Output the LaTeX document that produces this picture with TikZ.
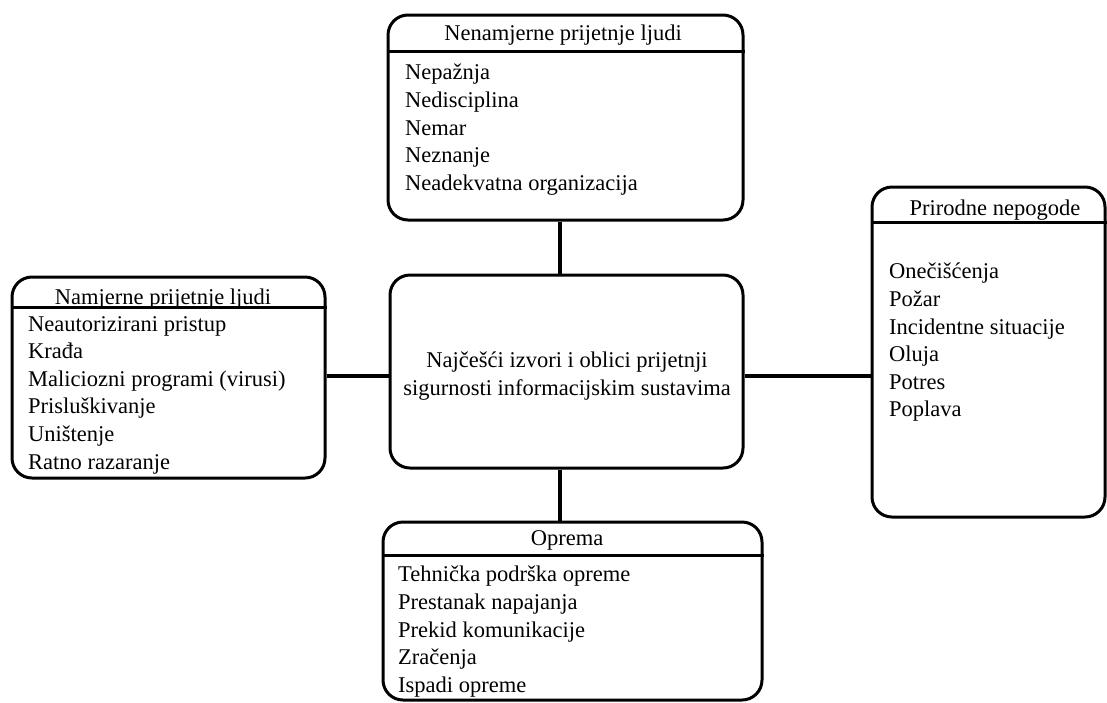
\documentclass[tikz,border=0pt]{standalone}
\usepackage{fontspec}
\setmainfont{Liberation Serif}
\begin{document}
\begin{tikzpicture}[x=1pt,y=-1pt,
  box/.style={draw=black, line width=3pt, rounded corners=20pt, inner sep=0pt, minimum width=#1},
  hdr/.style={line width=3pt},
  conn/.style={line width=4.5pt},
  txt/.style={font=\fontsize{22.5}{27.6}\selectfont, text=black, inner sep=0pt},
  title/.style={txt, anchor=base},
  list/.style={txt, align=left, anchor=north west}
]
\useasboundingbox (0,0) rectangle (1107,702);
% boxes
\node[box=355pt, minimum height=205pt] (top) at (565.5,117.5) {};
\node[box=313pt, minimum height=201pt] (left) at (168.5,377.5) {};
\node[box=233pt, minimum height=330pt] (right) at (988.5,352) {};
\node[box=379pt, minimum height=178pt] (bot) at (572.5,611) {};
\node[box=353pt, minimum height=193pt] (mid) at (566.5,371.5) {};
% header lines
\coordinate (ht) at (0,51);
\coordinate (hl) at (0,307);
\coordinate (hr) at (0,222);
\coordinate (hb) at (0,555);
\draw[hdr] (top.west |- ht) -- (top.east |- ht);
\draw[hdr] (left.west |- hl) -- (left.east |- hl);
\draw[hdr] (right.west |- hr) -- (right.east |- hr);
\draw[hdr] (bot.west |- hb) -- (bot.east |- hb);
% titles
\node[title] (ttop) at (563,40) {Nenamjerne prijetnje ljudi};
\node[title] (tleft) at (163,304) {Namjerne prijetnje ljudi};
\node[title] (tright) at (995,215) {Prirodne nepogode};
\node[title] (tbot) at (567,545) {Oprema};
% lists
\node[list] (ltop) at (405,64) {Nepažnja\\Nedisciplina\\Nemar\\Neznanje\\Neadekvatna organizacija};
\node[list] (lleft) at (28,316) {Neautorizirani pristup\\Krađa\\Maliciozni programi (virusi)\\Prisluškivanje\\Uništenje\\Ratno razaranje};
\node[list] (lright) at (889,263) {Onečišćenja\\Požar\\Incidentne situacije\\Oluja\\Potres\\Poplava};
\node[list] (lbot) at (398,566) {Tehnička podrška opreme\\Prestanak napajanja\\Prekid komunikacije\\Zračenja\\Ispadi opreme};
% center text
\node[txt, align=center] (mtext) at (567,376) {Najčešći izvori i oblici prijetnji\\sigurnosti informacijskim sustavima};
% connectors
\coordinate (vx) at (560,0);
\coordinate (hy) at (0,376);
\draw[conn] (top.south -| vx) -- (mid.north -| vx);
\draw[conn] (mid.south -| vx) -- (bot.north -| vx);
\draw[conn] (left.east |- hy) -- (mid.west |- hy);
\draw[conn] (mid.east |- hy) -- (right.west |- hy);
\end{tikzpicture}
\end{document}
